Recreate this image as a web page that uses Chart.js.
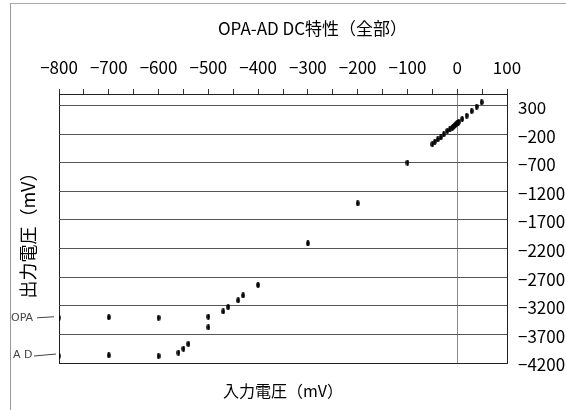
<!DOCTYPE html>
<html>
<head>
<meta charset="utf-8">
<script src="https://cdn.jsdelivr.net/npm/chart.js@4.4.1/dist/chart.umd.min.js"></script>
<style>
  body { margin: 0; background: #fff; }
  #wrap { position: relative; width: 566px; height: 410px; }
  #frame { position: absolute; left: 10px; top: 3px; width: 556px; height: 407px;
           border-left: 1px solid #999; border-top: 1px solid #aaa; pointer-events: none; }
</style>
</head>
<body>
<div id="wrap">
  <canvas id="chart" width="566" height="410"></canvas>
  <div id="frame"></div>
</div>
<script>
// 入力電圧(mV) / 出力電圧(mV)
const opaIn  = [-800, -700, -600, -500, -470, -460, -440, -430, -400, -300, -200, -100,
                -50, -45, -39, -33, -27, -20, -15, -10, -8, -6, -4, -2, 0, 2, 3, 10, 19, 29, 39, 49];
const opaOut = [-3410, -3400, -3410, -3390, -3300, -3225, -3105, -3020, -2837, -2109, -1410, -700,
                -377, -333, -292, -257, -204, -147, -117, -90, -75, -60, -45, -30, -15, 0, 12, 63, 121, 203, 278, 355];
const adIn   = [-800, -700, -600, -560, -550, -540, -500];
const adOut  = [-4078, -4066, -4078, -4020, -3950, -3868, -3577];

const xTickLabels = [-800, -700, -600, -500, -400, -300, -200, -100, 0, 100];
const yTickLabels = [-4200, -3700, -3200, -2700, -2200, -1700, -1200, -700, -200, 300];

const chartTitle = 'OPA-AD DC特性（全部）';
const xTitle = '入力電圧（mV）';
const yTitle = '出力電圧（mV）';

const FONT = '"Noto Sans CJK JP", "Liberation Sans", sans-serif';

// 点マーカー（縦長の楕円）
function makeMarker() {
    const c = document.createElement('canvas');
    c.width = 4; c.height = 6;
    const g = c.getContext('2d');
    g.fillStyle = '#000';
    g.beginPath();
    g.ellipse(2, 3, 1.8, 2.9, 0, 0, Math.PI * 2);
    g.fill();
    return c;
}
const marker = makeMarker();

function toPoints(xs, ys) {
    return xs.map((x, i) => ({ x: x, y: ys[i] }));
}

// 左の軸タイトル、下の軸タイトル、手書きのメモ
const sideNotes = {
    id: 'sideNotes',
    afterDraw(chart) {
        const ctx = chart.ctx;
        const area = chart.chartArea;
        const ys = chart.scales.y;
        ctx.save();
        ctx.fillStyle = '#000';
        ctx.textAlign = 'center';
        ctx.textBaseline = 'middle';
        ctx.font = '16px ' + FONT;
        ctx.fillText(xTitle, 283, 391);
        ctx.font = '18px ' + FONT;
        ctx.translate(28, 231);
        ctx.rotate(-Math.PI / 2);
        ctx.fillText(yTitle, 0, 0);
        ctx.restore();

        // 手書きのラベル
        ctx.save();
        ctx.fillStyle = '#444';
        ctx.strokeStyle = '#444';
        ctx.lineWidth = 1;
        ctx.font = '11px "DejaVu Sans", sans-serif';
        ctx.textBaseline = 'middle';
        const yOpa = ys.getPixelForValue(opaOut[0]);
        const yAd = ys.getPixelForValue(adOut[0]);
        ctx.fillText('OPA', 11, yOpa);
        ctx.beginPath();
        ctx.moveTo(37, yOpa); ctx.lineTo(54, yOpa - 1);
        ctx.stroke();
        ctx.fillText('A D', 13, yAd - 1);
        ctx.beginPath();
        ctx.moveTo(34, yAd); ctx.lineTo(56, yAd - 2);
        ctx.stroke();
        ctx.restore();
    }
};

new Chart(document.getElementById('chart'), {
    type: 'scatter',
    data: {
        datasets: [
            {
                label: 'OPA',
                data: toPoints(opaIn, opaOut),
                pointStyle: marker,
                pointRadius: 3,
                pointHoverRadius: 3,
                showLine: false
            },
            {
                label: 'AD',
                data: toPoints(adIn, adOut),
                pointStyle: marker,
                pointRadius: 3,
                pointHoverRadius: 3,
                showLine: false
            }
        ]
    },
    options: {
        responsive: false,
        animation: false,
        layout: { padding: { left: 59, right: 0, top: 0, bottom: 47 } },
        plugins: {
            legend: { display: false },
            tooltip: { enabled: false },
            title: {
                display: true,
                text: chartTitle,
                color: '#000',
                font: { family: FONT, size: 17, weight: 'normal' },
                padding: { top: 18, bottom: 10 }
            }
        },
        scales: {
            x: {
                type: 'linear',
                position: 'top',
                min: -800,
                max: 100,
                afterBuildTicks: (scale) => {
                    const t = [];
                    xTickLabels.forEach((v, i) => {
                        t.push({ value: v });
                        if (i < xTickLabels.length - 1) t.push({ value: v + 50 });
                    });
                    scale.ticks = t;
                },
                afterFit: (scale) => { scale.height = 45.6; },
                ticks: {
                    autoSkip: false,
                    maxRotation: 0,
                    padding: 11,
                    color: '#000',
                    font: { family: FONT, size: 17 },
                    callback: (v) => xTickLabels.includes(v) ? String(v).replace('-', '−') : ''
                },
                grid: {
                    drawTicks: true,
                    tickLength: 5,
                    tickColor: '#333',
                    color: (c) => c.tick && c.tick.value === 0 ? '#8a8a8a'
                                 : (c.tick && c.tick.value === -800 ? '#222' : 'rgba(0,0,0,0)')
                },
                border: { display: true, color: '#222', width: 1 }
            },
            y: {
                type: 'linear',
                position: 'right',
                min: -4200,
                max: 500,
                afterBuildTicks: (scale) => {
                    scale.ticks = yTickLabels.map(v => ({ value: v }));
                },
                afterFit: (scale) => { scale.width = 59; },
                ticks: {
                    padding: 11,
                    labelOffset: 2,
                    color: '#000',
                    font: { family: FONT, size: 17 },
                    callback: (v) => String(v).replace('-', '−')
                },
                grid: {
                    drawTicks: false,
                    color: (c) => c.tick && c.tick.value === -4200 ? '#222' : '#555'
                },
                border: { display: true, color: '#222', width: 1 }
            }
        }
    },
    plugins: [sideNotes]
});
</script>
</body>
</html>
